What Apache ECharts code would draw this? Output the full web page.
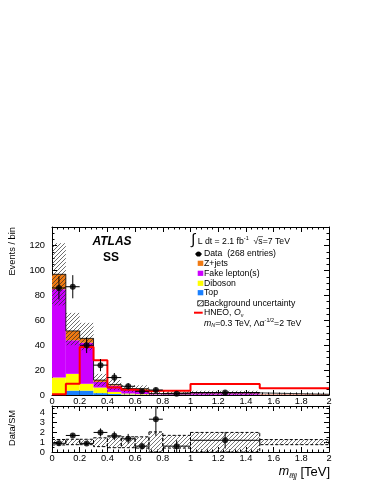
<!DOCTYPE html>
<html><head><meta charset="utf-8">
<script src="https://cdn.jsdelivr.net/npm/echarts@6/dist/echarts.min.js"></script>
<style>html,body{margin:0;padding:0;background:#fff}#c{width:374px;height:484px}</style>
</head><body><div id="c"></div><script>
// ---------------- data ----------------
const binEdges   = [0, 0.1, 0.2, 0.3, 0.4, 0.5, 0.6, 0.7, 0.8, 1.0, 1.5, 2.0];
const topMC      = [0.5, 3.5, 3.5, 1.5, 0.8, 0.4, 0.2, 0.1, 0.1, 0.05, 0.02];
const diboson    = [13.5, 13.5, 5.5, 4.5, 1.7, 0.8, 0.5, 0.3, 0.3, 0.2, 0.1];
const fakeLep    = [71, 27, 33, 4.5, 5, 3.3, 3.5, 0.6, 1.0, 1.15, 0.38];
const zJets      = [12, 7.5, 3.5, 1.5, 1, 0.7, 0.8, 0.2, 0.3, 0.3, 0.1];
const bandLow    = [72, 40, 36, 7, 4, 2.3, 2, 0, 0.6, 0, 0.45];
const bandHigh   = [122, 66, 58, 17, 12, 8, 7.8, 2.4, 3.0, 3.4, 0.75];
const hneo       = [0.7, 9, 38.5, 28, 6, 4.3, 3, 3.5, 3.5, 8.8, 5.4];
const dataCounts = [86, 87, 40, 24, 14, 7, 3, 4, 1, 2];
const dataErr    = [9.3, 9.3, 6.3, 4.9, 3.7, 2.6, 1.7, 2.0, 1.0, 1.4];
const ratioVals  = [0.89, 1.69, 0.88, 2.0, 1.65, 1.35, 0.6, 3.35, 0.6, 1.2];
const ratioErr   = [0.1, 0.18, 0.14, 0.41, 0.44, 0.5, 0.35, 1.7, 0.6, 0.85];
const ratioLow   = [0.72, 0.75, 0.75, 0.55, 0.44, 0.44, 0.4, 0, 0.4, 0, 0.75];
const ratioHigh  = [1.28, 1.3, 1.3, 1.45, 1.55, 1.55, 1.55, 2.05, 1.7, 2.0, 1.27];
const mainYTicks = {min: 0, max: 135, interval: 20};
const ratioYTicks = {min: 0, max: 4.7, interval: 1};
const xTicks = {min: 0, max: 2, interval: 0.2};

// ---------------- styling helpers ----------------
const FONT = 'Liberation Sans';
const C = {z: '#f07a12', fake: '#cc00ff', dib: '#ffff00', top: '#1a80ff', red: '#ff0000'};

function makeHatch(color, lw) {
  const S = 4, cv = document.createElement('canvas');
  cv.width = S; cv.height = S;
  const g = cv.getContext('2d');
  g.strokeStyle = color; g.lineWidth = lw;
  g.beginPath();
  g.moveTo(-1, S + 1); g.lineTo(S + 1, -1);
  g.moveTo(-1, 1); g.lineTo(1, -1);
  g.moveTo(S - 1, S + 1); g.lineTo(S + 1, S - 1);
  g.stroke();
  return {image: cv, repeat: 'repeat'};
}
const hatchMain = makeHatch('rgba(40,40,40,0.85)', 0.8);
const hatchRatio = makeHatch('#555', 0.8);

const mctx = document.createElement('canvas').getContext('2d');
function fontStr(p) { return (p.style || 'normal') + ' ' + (p.weight || 'normal') + ' ' + p.size + 'px "' + FONT + '"'; }
function measure(t, p) { mctx.font = fontStr(p); return mctx.measureText(t).width; }
function textEl(x, y, t, p, extra) {
  return Object.assign({
    type: 'text', x: x, y: y, z: 100, silent: true,
    style: {text: t, fontSize: p.size, fontFamily: FONT, fontStyle: p.style || 'normal', fontWeight: p.weight || 'normal',
      fill: '#000', align: p.align || 'left', textAlign: p.align || 'left', verticalAlign: 'middle', textVerticalAlign: 'middle'}
  }, extra || {});
}
function seq(x, y, parts, out) {
  let cx = x;
  parts.forEach(p => {
    out.push(textEl(cx, y + (p.dy || 0), p.t, p));
    cx += measure(p.t, p);
  });
  return cx;
}
function seqWidth(parts) { return parts.reduce((s, p) => s + measure(p.t, p), 0); }

// ---------------- build series data ----------------
const nb = binEdges.length - 1;
const comps = [topMC, diboson, fakeLep, zJets];
const compColors = [C.top, C.dib, C.fake, C.z];
const cum = [];
let base = new Array(nb).fill(0);
comps.forEach(arr => {
  const rows = [];
  const nbase = base.slice();
  for (let i = 0; i < nb; i++) { rows.push([binEdges[i], binEdges[i + 1], base[i], base[i] + arr[i]]); nbase[i] = base[i] + arr[i]; }
  cum.push(rows); base = nbase;
});
const totalBkg = base;

function rectSeries(rows, xi, yi, style, z) {
  return {
    type: 'custom', xAxisIndex: xi, yAxisIndex: yi, z: z, clip: true, silent: true, animation: false,
    data: rows, encode: {x: [0, 1], y: [2, 3]},
    renderItem: (params, api) => {
      const a = api.coord([api.value(0), api.value(3)]);
      const b = api.coord([api.value(1), api.value(2)]);
      return {type: 'rect', shape: {x: a[0], y: a[1], width: b[0] - a[0], height: b[1] - a[1]}, style: Object.assign({}, style)};
    }
  };
}
function stepSeries(vals, xi, yi, color, width, z) {
  const d = [];
  for (let i = 0; i < nb; i++) d.push([binEdges[i], vals[i]]);
  d.push([binEdges[nb], vals[nb - 1]]);
  return {type: 'line', xAxisIndex: xi, yAxisIndex: yi, z: z, step: 'end', data: d, showSymbol: false, symbol: 'none',
    silent: true, animation: false, clip: true, lineStyle: {color: color, width: width}};
}
function errSeries(vals, errs, xi, yi, z) {
  const rows = vals.map((v, i) => [(binEdges[i] + binEdges[i + 1]) / 2, v, binEdges[i], binEdges[i + 1], errs[i]]);
  return {
    type: 'custom', xAxisIndex: xi, yAxisIndex: yi, z: z, clip: true, silent: true, animation: false,
    data: rows, encode: {x: [0, 2, 3], y: [1]},
    renderItem: (params, api) => {
      const x = api.value(0), y = api.value(1), e = api.value(4);
      const l = api.coord([api.value(2), y]), r = api.coord([api.value(3), y]);
      const t = api.coord([x, y + e]), b = api.coord([x, y - e]);
      const st = {stroke: '#000', lineWidth: 1};
      return {type: 'group', children: [
        {type: 'line', shape: {x1: l[0], y1: l[1], x2: r[0], y2: r[1]}, style: st},
        {type: 'line', shape: {x1: t[0], y1: t[1], x2: b[0], y2: b[1]}, style: st}
      ]};
    }
  };
}
function pointSeries(vals, xi, yi, z) {
  return {type: 'scatter', xAxisIndex: xi, yAxisIndex: yi, z: z, silent: true, animation: false, symbol: 'circle', symbolSize: 6,
    itemStyle: {color: '#000'}, data: vals.map((v, i) => [(binEdges[i] + binEdges[i + 1]) / 2, v])};
}

const series = [];
cum.forEach((rows, k) => series.push(rectSeries(rows, 0, 0, {fill: compColors[k]}, 2)));
series.push(rectSeries(bandLow.map((v, i) => [binEdges[i], binEdges[i + 1], v, bandHigh[i]]), 0, 0, {fill: hatchMain}, 3));
series.push(stepSeries(totalBkg, 0, 0, '#000', 0.8, 4));
series.push(stepSeries(hneo, 0, 0, C.red, 2, 5));
series.push(errSeries(dataCounts, dataErr, 0, 0, 6));
series.push(pointSeries(dataCounts, 0, 0, 7));
series.push(rectSeries(ratioLow.map((v, i) => [binEdges[i], binEdges[i + 1], v, ratioHigh[i]]), 2, 2,
  {fill: hatchRatio, stroke: '#000', lineWidth: 1, lineDash: [3, 2]}, 3));
series.push(errSeries(ratioVals, ratioErr, 2, 2, 6));
series.push(pointSeries(ratioVals, 2, 2, 7));

// ---------------- axes ----------------
const labelStyle = {color: '#000', fontFamily: FONT, fontSize: 9.3};
function xAx(grid, pos, labels) {
  return {type: 'value', gridIndex: grid, position: pos, min: xTicks.min, max: xTicks.max, interval: xTicks.interval,
    axisLine: {show: true, onZero: false, lineStyle: {color: '#000', width: 1}},
    axisTick: {show: true, inside: true, length: 5, lineStyle: {color: '#000'}},
    minorTick: {show: true, splitNumber: 5, length: 2.5, lineStyle: {color: '#000'}},
    axisLabel: Object.assign({show: labels, margin: 2}, labelStyle),
    splitLine: {show: false}, minorSplitLine: {show: false}};
}
function yAx(grid, pos, labels, t, minorSplit) {
  return {type: 'value', gridIndex: grid, position: pos, min: t.min, max: t.max, interval: t.interval,
    axisLine: {show: true, onZero: false, lineStyle: {color: '#000', width: 1}},
    axisTick: {show: true, inside: true, length: 5, lineStyle: {color: '#000'}},
    minorTick: {show: true, splitNumber: minorSplit, length: 2.5, lineStyle: {color: '#000'}},
    axisLabel: Object.assign({show: labels, margin: 7, showMaxLabel: false}, labelStyle),
    splitLine: {show: false}, minorSplitLine: {show: false}};
}

// ---------------- text / legend graphics ----------------
const G = [];
G.push(textEl(12, 227, 'Events / bin', {size: 9.3, align: 'right'}, {rotation: Math.PI / 2}));
G.push(textEl(12, 428, 'Data/SM', {size: 9.3, align: 'center'}, {rotation: Math.PI / 2}));
G.push(textEl(112, 242, 'ATLAS', {size: 12, weight: 'bold', style: 'italic', align: 'center'}));
G.push(textEl(111, 257.5, 'SS', {size: 12, weight: 'bold', align: 'center'}));

// x-axis title (right aligned at plot edge)
const xTitle = [
  {t: 'm', size: 12.5, style: 'italic'},
  {t: 'ℓℓjj', size: 7, style: 'italic', dy: 4},
  {t: ' [TeV]', size: 13}
];
seq(330 - seqWidth(xTitle), 472, xTitle, G);

// legend header
const LS = 8.7;
G.push(textEl(191, 239.5, '∫', {size: 15}));
let hx = seq(197.7, 241.5, [{t: 'L dt = 2.1 fb', size: LS}, {t: '-1', size: 5.5, dy: -3}, {t: '  ', size: LS}], G);
const sqrtW = measure('√', {size: LS});
const sW = measure('s', {size: LS});
seq(hx, 241.5, [{t: '√s=7 TeV', size: LS}], G);
G.push({type: 'line', z: 100, silent: true, shape: {x1: hx + sqrtW - 0.3, y1: 236.6, x2: hx + sqrtW + sW + 0.3, y2: 236.6}, style: {stroke: '#000', lineWidth: 0.6}});

const TX = 204;
// Data
G.push({type: 'line', z: 100, silent: true, shape: {x1: 195, y1: 254, x2: 202, y2: 254}, style: {stroke: '#000', lineWidth: 1}});
G.push({type: 'circle', z: 101, silent: true, shape: {cx: 198.5, cy: 254, r: 2.6}, style: {fill: '#000'}});
G.push(textEl(TX, 254, 'Data  (268 entries)', {size: LS}));
const boxes = [['Z+jets', C.z, 263.3], ['Fake lepton(s)', C.fake, 273.3], ['Diboson', C.dib, 283.3], ['Top', C.top, 292.7]];
boxes.forEach(b => {
  G.push({type: 'rect', z: 100, silent: true, shape: {x: 197.7, y: b[2] - 2.6, width: 5.6, height: 5.2}, style: {fill: b[1]}});
  G.push(textEl(TX, b[2], b[0], {size: LS}));
});
G.push({type: 'rect', z: 100, silent: true, shape: {x: 197.7, y: 303.3 - 2.6, width: 5.6, height: 5.2}, style: {fill: hatchRatio, stroke: '#000', lineWidth: 0.7}});
G.push(textEl(TX, 303.3, 'Background uncertainty', {size: LS}));
G.push({type: 'line', z: 100, silent: true, shape: {x1: 194, y1: 312.7, x2: 202.7, y2: 312.7}, style: {stroke: C.red, lineWidth: 2}});
seq(TX, 312.7, [{t: 'HNEO, ', size: LS}, {t: 'O', size: LS, style: 'italic'}, {t: 'ν', size: 5.5, dy: 2.5}], G);
seq(TX, 323.3, [
  {t: 'm', size: LS, style: 'italic'}, {t: 'N', size: 5.5, style: 'italic', dy: 2.5},
  {t: '=0.3 TeV, Λα', size: LS}, {t: '-1/2', size: 5.5, dy: -3}, {t: '=2 TeV', size: LS}
], G);

// ---------------- chart ----------------
const chart = echarts.init(document.getElementById('c'), null, {renderer: 'canvas', width: 374, height: 484});
chart.setOption({
  animation: false,
  backgroundColor: '#fff',
  textStyle: {fontFamily: FONT},
  grid: [
    {left: 52, top: 227, width: 277, height: 168, containLabel: false, outerBoundsMode: 'none'},
    {left: 52, top: 406, width: 277, height: 46, containLabel: false, outerBoundsMode: 'none'}
  ],
  xAxis: [xAx(0, 'bottom', true), xAx(0, 'top', false), xAx(1, 'bottom', true), xAx(1, 'top', false)],
  yAxis: [yAx(0, 'left', true, mainYTicks, 4), yAx(0, 'right', false, mainYTicks, 4),
          yAx(1, 'left', true, ratioYTicks, 2), yAx(1, 'right', false, ratioYTicks, 2)],
  series: series,
  graphic: G
});
</script></body></html>
